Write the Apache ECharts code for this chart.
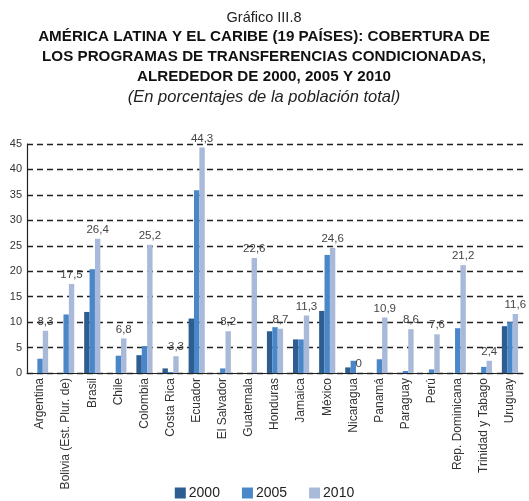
<!DOCTYPE html>
<html><head><meta charset="utf-8">
<script src="https://cdn.jsdelivr.net/npm/echarts@6/dist/echarts.min.js"></script>
<style>html,body{margin:0;padding:0;background:#fff}#c{width:529px;height:501px}</style>
</head><body><div id="c"></div>
<script>
const categories = ["Argentina","Bolivia (Est. Plur. de)","Brasil","Chile","Colombia","Costa Rica","Ecuador","El Salvador","Guatemala","Honduras","Jamaica","México","Nicaragua","Panamá","Paraguay","Perú","Rep. Dominicana","Trinidad y Tabago","Uruguay"];
const s2000 = [null,null,12.0,null,3.5,0.9,10.7,null,null,8.2,6.6,12.2,1.1,null,null,null,null,null,9.2];
const s2005 = [2.8,11.5,20.4,3.4,5.3,0.2,35.9,0.9,null,9.0,6.6,23.2,2.4,2.7,0.4,0.7,8.8,1.2,10.0];
const s2010 = [8.3,17.5,26.4,6.8,25.2,3.3,44.3,8.2,22.6,8.7,11.3,24.6,0,10.9,8.6,7.6,21.2,2.4,11.6];
const seriesNames = ["2000","2005","2010"];
const yTicks = [0,5,10,15,20,25,30,35,40,45];
const titleLines = ["AMÉRICA LATINA Y EL CARIBE (19 PAÍSES): COBERTURA DE","LOS PROGRAMAS DE TRANSFERENCIAS CONDICIONADAS,","ALREDEDOR DE 2000, 2005 Y 2010"];

const FONT = "Liberation Sans";
const chart = echarts.init(document.getElementById('c'), null, {renderer:'canvas'});
const colors = ["#2d5d91","#4a87c8","#a9b9d9"];
const cx = 264;
const graphics = [
  {type:'text', x:cx, y:18, style:{text:"Gráfico III.8", x:0, y:0, align:'center', verticalAlign:'middle', font:'normal 14.5px "Liberation Sans"', fill:'#222'}},
  {type:'text', x:cx, y:97, style:{text:"(En porcentajes de la población total)", x:0, y:0, align:'center', verticalAlign:'middle', font:'italic 16.5px "Liberation Sans"', fill:'#222'}}
];
titleLines.forEach((t,i)=>graphics.push({type:'text', x:cx, y:37+i*20, style:{text:t, x:0, y:0, align:'center', verticalAlign:'middle', font:'bold 15.2px "Liberation Sans"', fill:'#111'}}));

chart.setOption({
  animation:false,
  textStyle:{fontFamily:FONT},
  graphic:graphics,
  legend:{
    data:seriesNames, top:481, left:'center', itemWidth:11, itemHeight:11, itemGap:22, itemStyle:{borderWidth:0},
    icon:'rect', textStyle:{fontFamily:FONT,fontSize:14,color:'#222', padding:[0,0,0,-2]}
  },
  grid:{left:27, right:6, top:144, bottom:128, containLabel:false},
  xAxis:{
    type:'category', data:categories,
    axisLine:{lineStyle:{color:'#222',width:1.2}},
    axisTick:{show:false},
    axisLabel:{rotate:90, interval:0, fontFamily:FONT, fontSize:12, color:'#333', margin:5}
  },
  yAxis:{
    type:'value', min:0, max:45, interval:5,
    axisLine:{show:true, lineStyle:{color:'#222',width:1.2}},
    axisTick:{show:false},
    axisLabel:{fontFamily:FONT, fontSize:11, color:'#333', margin:5},
    splitLine:{show:true, lineStyle:{type:[6,4], color:'#222', width:1.3}}
  },
  series:[
    {name:seriesNames[0], type:'bar', data:s2000, itemStyle:{color:colors[0]}, barGap:'0%', barCategoryGap:'38%'},
    {name:seriesNames[1], type:'bar', data:s2005, itemStyle:{color:colors[1]}, barGap:'0%', barCategoryGap:'38%'},
    {name:seriesNames[2], type:'bar', data:s2010, itemStyle:{color:colors[2]}, barGap:'0%', barCategoryGap:'38%',
      label:{show:true, position:'top', distance:3, fontFamily:FONT, fontSize:11.5, color:'#444',
        formatter:p=>String(p.value).replace('.',',')}}
  ]
});
</script></body></html>
